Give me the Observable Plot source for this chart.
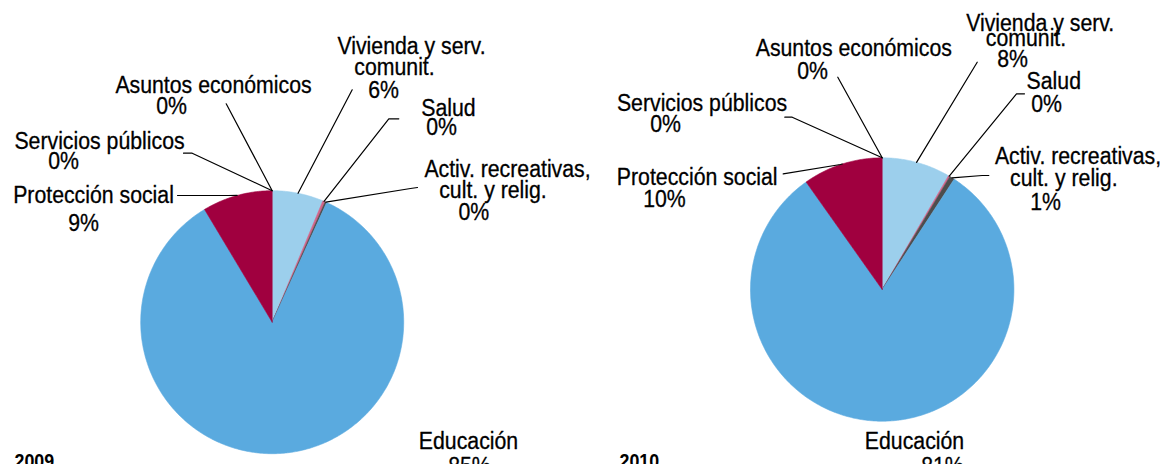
<!DOCTYPE html>
<html><head><meta charset="utf-8">
<script src="https://cdn.jsdelivr.net/npm/d3@7"></script>
<script src="https://cdn.jsdelivr.net/npm/@observablehq/plot@0.6"></script>
<style>
html,body{margin:0;padding:0;background:#fff}
#chart svg{display:block}
</style>
</head><body><div id="chart"></div>
<script>
// ---------- data ----------
const categories = ["Vivienda y serv. comunit.", "Salud", "Activ. recreativas, cult. y relig.", "Educación", "Protección social", "Servicios públicos", "Asuntos económicos"];
const years = ["2009", "2010"];
const values2009 = [6.3, 0.3, 0.2, 84.6, 8.6, 0, 0];
const values2010 = [8.4, 0.2, 0.6, 81.0, 9.8, 0, 0];
const labelLines = [["Vivienda y serv.", "comunit."], ["Salud"], ["Activ. recreativas,", "cult. y relig."], ["Educación"], ["Protección social"], ["Servicios públicos"], ["Asuntos económicos"]];
const sliceColors = ["#9ccfec", "#d0648a", "#4d4d4d", "#5aaadf", "#a0003f", "#7f7f7f", "#bfbfbf"];

// ---------- layout (positions and styles only) ----------
const W = 1167, H = 464;
const FONT = "'Liberation Sans', Arial, sans-serif";
const LABEL_SIZE = 23.5, LABEL_SQUEEZE = 0.905;
const YEAR_SIZE = 21, YEAR_SQUEEZE = 0.85;
const layout = [
  { cx: 271.7, cy: 321.7, r: 131.5, yearPos: [14, 467],
    text: [
      [[411, 53], [394, 74], [383, 97]],
      [[448, 115], [441, 134]],
      [[507, 176], [492.5, 197.3], [473.3, 219.3]],
      [[468, 448], [469, 473]],
      [[93, 202], [83, 230]],
      [[99, 148], [63, 168]],
      [[213, 92], [171, 113]]
    ],
    leader: [
      [[351.7, 89.3]],
      [[388.3, 118.3], [398.3, 118.3]],
      [[410, 188], [417, 187]],
      null,
      [[228, 195], [177, 195]],
      [[191.7, 152.7], [183, 152.7]],
      [[225.7, 103.3]]
    ] },
  { cx: 881.7, cy: 289, r: 131.7, yearPos: [619, 467],
    text: [
      [[1039.7, 30.7], [1025.5, 45], [1012, 66]],
      [[1053.3, 88.3], [1046, 111.7]],
      [[1077.5, 163.3], [1063.3, 185], [1045, 209.3]],
      [[914, 448.7], [942, 473]],
      [[696.7, 184.3], [664, 206.7]],
      [[701.5, 110], [665, 131.7]],
      [[853.3, 55], [812, 78.3]]
    ],
    leader: [
      [[976.7, 61.7]],
      [[1016, 93.3], [1024, 93.3]],
      [[981.7, 175], [988.3, 175]],
      null,
      [[840, 164], [782.7, 173.3]],
      [[791.7, 116.7], [784.3, 116.7]],
      [[837.3, 76.7]]
    ] }
];

// ---------- build mark tables ----------
const seriesByYear = [values2009, values2010];
const slicePts = [], leaderPts = [], textRows = [], yearRows = [];
seriesByYear.forEach((vals, p) => {
  const L = layout[p];
  const total = d3.sum(vals);
  let cum = 0;
  const pt = (a, rr) => [L.cx + rr * Math.sin(a), L.cy - rr * Math.cos(a)];
  vals.forEach((v, i) => {
    const a0 = cum / total * 2 * Math.PI;
    cum += v;
    const a1 = cum / total * 2 * Math.PI;
    const key = years[p] + "|" + categories[i];
    if (v > 0) {
      const n = Math.max(2, Math.ceil((a1 - a0) / (Math.PI / 360)));
      slicePts.push({key, x: L.cx, y: L.cy, color: sliceColors[i]});
      for (let k = 0; k <= n; k++) {
        const [x, y] = pt(a0 + (a1 - a0) * k / n, L.r);
        slicePts.push({key, x, y, color: sliceColors[i]});
      }
      slicePts.push({key, x: L.cx, y: L.cy, color: sliceColors[i]});
    }
    const lead = L.leader[i];
    if (lead) {
      const [sx, sy] = pt((a0 + a1) / 2, L.r);
      leaderPts.push({key, x: sx, y: sy});
      lead.forEach(([x, y]) => leaderPts.push({key, x, y}));
    }
    const lines = [...labelLines[i], Math.round(v) + "%"];
    lines.forEach((t, j) => {
      const [x, y] = L.text[i][j];
      textRows.push({x, y, text: t});
    });
  });
  yearRows.push({x: L.yearPos[0], y: L.yearPos[1], text: years[p]});
});

const chart = Plot.plot({
  width: W, height: H,
  margin: 0,
  x: {domain: [0, W], range: [0, W], axis: null},
  y: {domain: [0, H], range: [0, H], axis: null},
  color: {type: "identity"},
  style: {fontFamily: FONT, background: "#fff", overflow: "hidden"},
  marks: [
    Plot.line(slicePts, {x: "x", y: "y", z: "key", fill: "color", stroke: "color", strokeWidth: 0.6, curve: "linear"}),
    Plot.line(leaderPts, {x: "x", y: "y", z: "key", stroke: "#000", strokeWidth: 1.2, curve: "linear"}),
    Plot.text(textRows, {x: "x", y: "y", text: "text", textAnchor: "middle", lineAnchor: "bottom", fontSize: LABEL_SIZE, fill: "#000", stroke: "#000", strokeWidth: 0.3}),
    Plot.text(yearRows, {x: "x", y: "y", text: "text", textAnchor: "start", lineAnchor: "bottom", fontSize: YEAR_SIZE, fontWeight: "bold", fill: "#000"})
  ]
});

// horizontal condensing of text glyphs (the reference uses a condensed face)
chart.querySelectorAll("text").forEach(t => {
  const k = years.includes(t.textContent.trim()) ? YEAR_SQUEEZE : LABEL_SQUEEZE;
  const prev = t.getAttribute("transform") || "";
  const x = +(t.getAttribute("x") || 0);
  if (x) t.setAttribute("transform", `${prev} translate(${x},0) scale(${k},1) translate(${-x},0)`);
  else t.setAttribute("transform", `${prev} scale(${k},1)`);
});
document.getElementById("chart").append(chart);
</script>
</body></html>
